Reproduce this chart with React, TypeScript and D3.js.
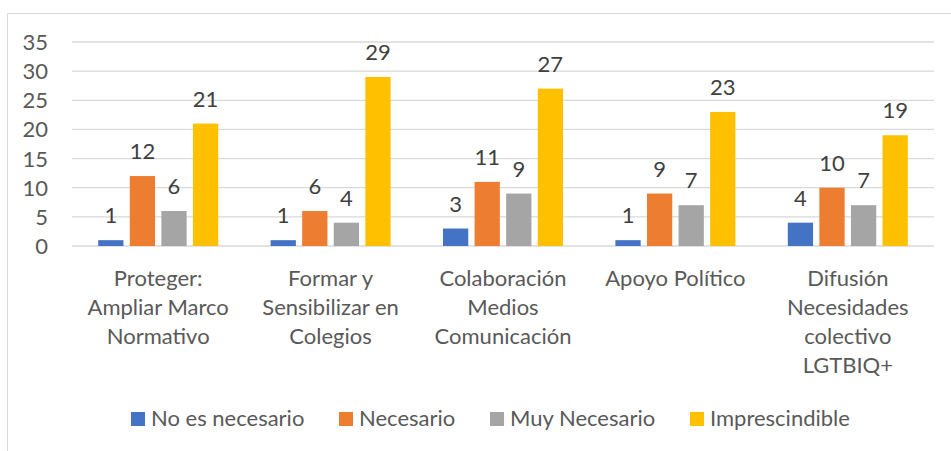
import React from 'react';
import * as d3 from 'd3';

const categories = [
  ['Proteger:', 'Ampliar Marco', 'Normativo'],
  ['Formar y', 'Sensibilizar en', 'Colegios'],
  ['Colaboración', 'Medios', 'Comunicación'],
  ['Apoyo Político'],
  ['Difusión', 'Necesidades', 'colectivo', 'LGTBIQ+'],
];
const seriesNames = ['No es necesario', 'Necesario', 'Muy Necesario', 'Imprescindible'];
const noEsNecesario = [1, 1, 3, 1, 4];
const necesario = [12, 6, 11, 9, 10];
const muyNecesario = [6, 4, 9, 7, 7];
const imprescindible = [21, 29, 27, 23, 19];
const yTicks = [0, 5, 10, 15, 20, 25, 30, 35];
const colors = ['#4472C4', '#ED7D31', '#A5A5A5', '#FFC000'];

const W = 951;
const H = 451;
const font = 'Lato, "Open Sans", sans-serif';
const fs = 22;

export default function App() {
  const series = [noEsNecesario, necesario, muyNecesario, imprescindible];
  const catIdx = categories.map((_, i) => i);

  const x = d3.scaleBand<number>().domain(catIdx).range([72, 934]).padding(0);
  const y = d3.scaleLinear().domain([0, 35]).range([246, 42]);
  // bars inside a group
  const groupW = 120;
  const inner = d3.scaleBand<number>()
    .domain(series.map((_, i) => i))
    .range([0, groupW])
    .paddingInner(0.2)
    .paddingOuter(0);
  const groupOffset = (x.bandwidth() - groupW) / 2;

  const legendX = [131, 339, 490, 690];

  return (
    <svg width={W} height={H} style={{ position: 'absolute', left: 0, top: 0 }}>
      <rect x={0} y={0} width={W} height={H} fill="#fff" />
      {/* chart border (top and left edges visible) */}
      <line x1={7.5} x2={W} y1={13.5} y2={13.5} stroke="#D9D9D9" />
      <line x1={7.5} x2={7.5} y1={13.5} y2={H} stroke="#D9D9D9" />

      {yTicks.map(t => (
        <g key={t}>
          <line x1={72} x2={934} y1={y(t)} y2={y(t)} stroke="#D9D9D9" strokeWidth={1.3} />
          <text x={48} y={y(t) + 8} textAnchor="end" fontFamily={font} fontSize={fs} fill="#595959">
            {t}
          </text>
        </g>
      ))}

      {catIdx.map(c => (
        <g key={c} transform={`translate(${(x(c) ?? 0) + groupOffset},0)`}>
          {series.map((s, si) => (
            <g key={si}>
              <rect
                x={inner(si)}
                y={y(s[c])}
                width={inner.bandwidth()}
                height={y(0) - y(s[c])}
                fill={colors[si]}
              />
              <text
                x={(inner(si) ?? 0) + inner.bandwidth() / 2}
                y={y(s[c]) - 17}
                textAnchor="middle"
                fontFamily={font}
                fontSize={fs}
                fill="#404040"
              >
                {s[c]}
              </text>
            </g>
          ))}
        </g>
      ))}

      {categories.map((lines, c) => (
        <text
          key={c}
          x={(x(c) ?? 0) + x.bandwidth() / 2}
          textAnchor="middle"
          fontFamily={font}
          fontSize={fs}
          fill="#595959"
        >
          {lines.map((l, li) => (
            <tspan key={li} x={(x(c) ?? 0) + x.bandwidth() / 2} y={286 + li * 29}>
              {l}
            </tspan>
          ))}
        </text>
      ))}

      {seriesNames.map((name, i) => (
        <g key={name}>
          <rect x={legendX[i]} y={412} width={14} height={14} fill={colors[i]} />
          <text x={legendX[i] + 20} y={426} fontFamily={font} fontSize={fs} fill="#595959">
            {name}
          </text>
        </g>
      ))}
    </svg>
  );
}
